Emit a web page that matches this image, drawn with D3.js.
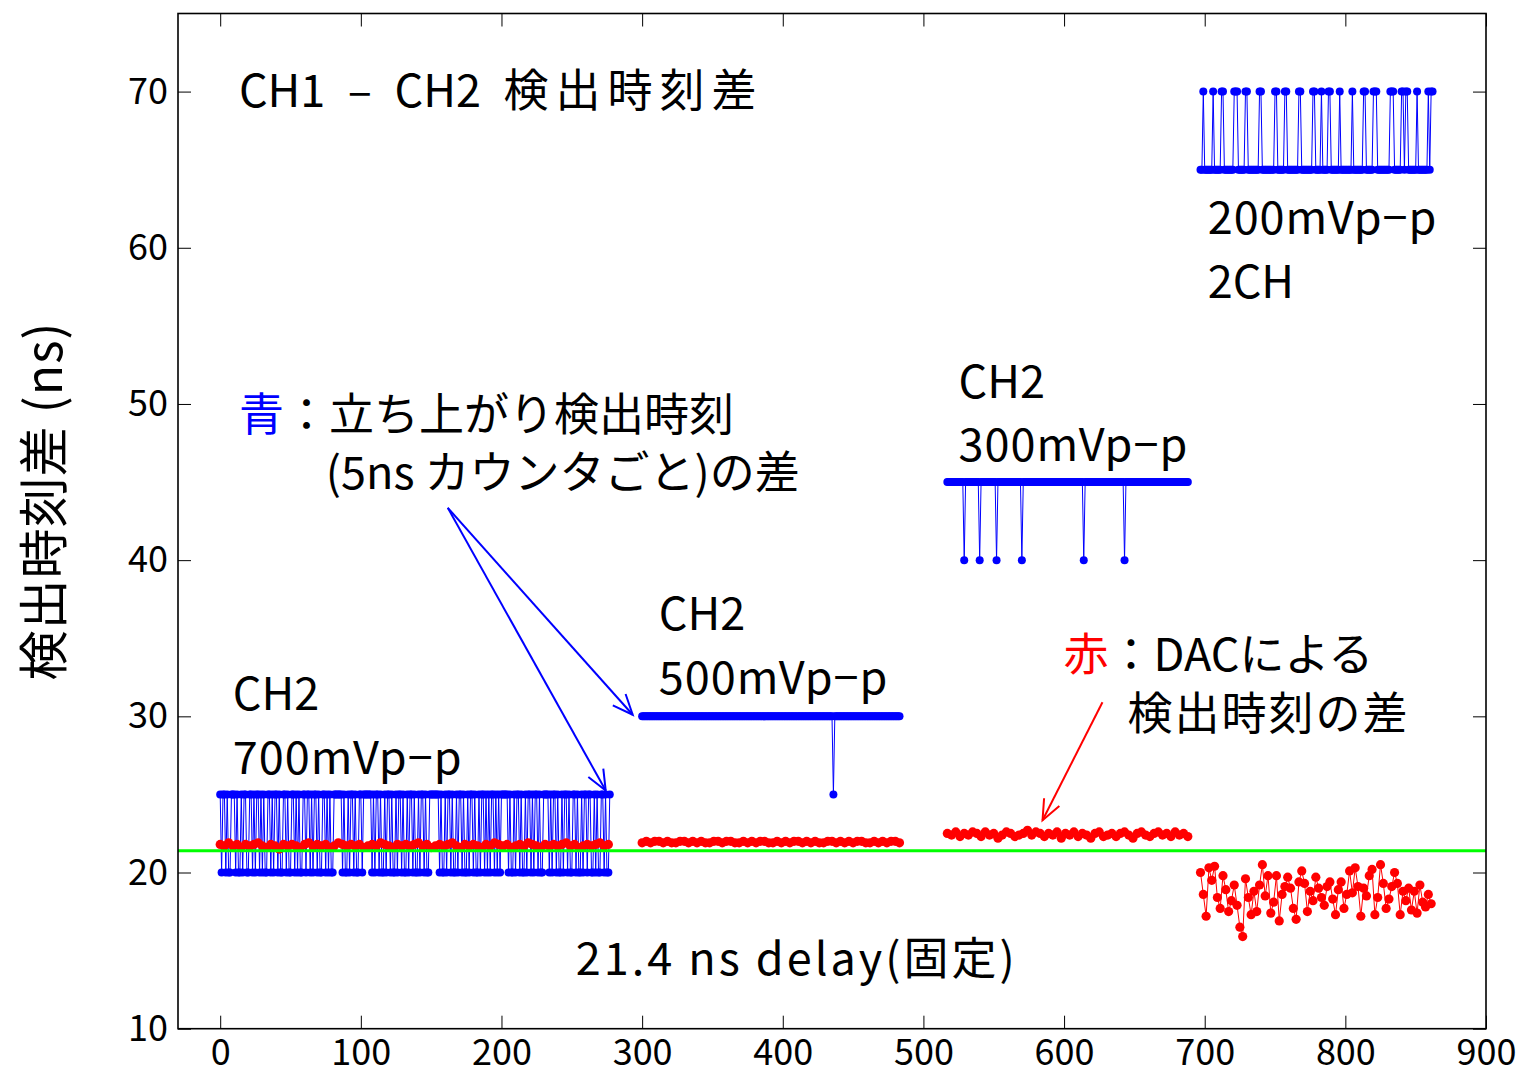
<!DOCTYPE html>
<html>
<head>
<meta charset="utf-8">
<script src="https://cdn.jsdelivr.net/npm/d3@7"></script>
<style>
  body { margin: 0; background: #fff; }
  text { font-family: "Noto Sans CJK JP", sans-serif; }
</style>
</head>
<body>
<script>
var xTicks = [0, 100, 200, 300, 400, 500, 600, 700, 800, 900];
var yTicks = [10, 20, 30, 40, 50, 60, 70];

// blue: one sample per x unit, "1" = upper level, "0" = lower level
var blueStarts = [0, 300, 517, 697];
var blueLow = [20, 25, 40, 65];
var blueHigh = [25, 30, 45, 70];
var blueLevels1 = "1011010011 1010010110 0110101101 0100110101 1010011010 " +
                  "0110101001 1011010110 1001101010 0111111010 0101101001 " +
                  "1011111101 0110100101 1010010110 1001011010 0101101001 " +
                  "1111110100 1011010010 1101001011 0100101101 0101101010 " +
                  "1111101001 0110100101 1010110100 1111010110 1001011010 " +
                  "0110100101 1011001010 01101001";
var blueLevels2 = "1111111111 1111111111 1111111111 1111111111 1111111111 " +
                  "1111111111 1111111111 1111111111 1111111111 1111111111 " +
                  "1111111111 1111111111 1111111111 1111110111 1111111111 " +
                  "1111111111 1111111111 1111111111 1111";
var blueLevels3 = "1111111111 1101111111 1110111111 1111101111 1111111111 " +
                  "1110111111 1111111111 1111111111 1111111111 1111111011 " +
                  "1111111111 1111111111 1111110111 1111111111 1111111111 " +
                  "1111111111 1111111111 11";
var blueLevels4 = "0010000001 0000011000 0000111000 0011000000 0011000000 " +
                  "0001100000 1100000000 1100000000 1100001000 0110000001 " +
                  "0000000010 0000001100 0001110000 0000011100 0001101100 " +
                  "0000100000 001011";

// red: DAC measured difference
var redStarts = [0, 300, 517, 697];
var redSteps = [3, 3, 3, 2];
var red1 = [21.8,21.7,21.9,21.7,21.8,21.6,21.8,21.7,21.8,21.9,
            21.7,21.6,21.8,21.7,21.5,21.8,21.7,21.8,21.7,21.6,
            21.8,21.9,21.7,21.8,21.7,21.8,21.6,21.7,21.9,21.8,
            21.7,21.8,21.7,21.8,21.6,21.7,21.8,21.7,21.9,21.8,
            21.7,21.6,21.8,21.7,21.8,21.7,21.8,21.9,21.7,21.8,
            21.6,21.7,21.8,21.7,21.8,21.9,21.7,21.6,21.8,21.7,
            21.8,21.7,21.6,21.8,21.7,21.9,21.8,21.7,21.8,21.6,
            21.7,21.8,21.7,21.9,21.8,21.7,21.6,21.8,21.7,21.8,
            21.7,21.8,21.9,21.7,21.8,21.6,21.7,21.8,21.7,21.8,
            21.9,21.7,21.8];
var red2 = [21.9,22.0,21.9,22.0,22.0,21.9,22.0,21.9,21.9,22.0,
            22.0,21.9,22.0,21.9,22.0,21.9,21.9,22.0,22.0,21.9,
            22.0,22.0,21.9,21.9,22.0,21.9,22.0,21.9,22.0,22.0,
            21.9,21.9,22.0,21.9,22.0,21.9,22.0,22.0,21.9,22.0,
            21.9,22.0,21.9,21.9,22.0,22.0,21.9,22.0,21.9,22.0,
            21.9,22.0,22.0,21.9,21.9,22.0,21.9,22.0,21.9,22.0,
            22.0,21.9];
var red3 = [22.5,22.4,22.6,22.3,22.5,22.4,22.6,22.5,22.3,22.6,
            22.4,22.5,22.2,22.4,22.6,22.5,22.3,22.4,22.5,22.7,
            22.4,22.6,22.5,22.3,22.5,22.4,22.6,22.2,22.5,22.4,
            22.6,22.3,22.5,22.4,22.2,22.5,22.6,22.3,22.4,22.5,
            22.3,22.5,22.6,22.4,22.2,22.5,22.6,22.4,22.3,22.5,
            22.6,22.4,22.5,22.3,22.6,22.4,22.5,22.3];
var red4 = [20.0,18.6,17.2,20.3,19.5,20.4,18.4,17.7,19.8,18.9,
            17.5,18.2,19.2,17.9,16.5,15.9,19.6,18.4,17.3,18.8,
            17.5,19.2,20.5,18.5,19.8,17.4,18.1,19.8,16.9,18.6,
            19.1,19.7,19.0,17.7,17.0,19.4,20.1,19.3,17.5,18.8,
            18.2,19.7,19.0,18.4,17.9,19.1,19.4,18.3,17.3,18.9,
            19.4,17.7,18.6,20.1,18.7,20.3,19.1,17.2,19.0,18.5,
            19.8,20.2,17.3,18.4,20.5,19.3,17.7,18.3,19.1,20.0,
            19.3,17.3,18.8,18.2,19.0,17.6,18.8,17.4,19.2,18.1,
            17.8,18.6,18.0];

var delayLevel = 21.4;

var W = 1523, H = 1076;
var svg = d3.select('body').append('svg')
            .attr('width', W)
            .attr('height', H);

var x = d3.scaleLinear().domain([-30, 900]).range([178, 1486]);
var y = d3.scaleLinear().domain([10, 75]).range([1028.7, 13.5]);

var line = d3.line()
    .x(function(d) { return x(d[0]); })
    .y(function(d) { return y(d[1]); });

function drawSeries(pts, color, r) {
    var g = svg.append('g');
    g.append('path')
        .attr('d', line(pts))
        .attr('fill', 'none')
        .attr('stroke', color)
        .attr('stroke-width', 1);
    g.selectAll('circle')
        .data(pts)
        .enter()
            .append('circle')
            .attr('cx', function(d) { return x(d[0]); })
            .attr('cy', function(d) { return y(d[1]); })
            .attr('r', r)
            .attr('fill', color);
}

// blue
[blueLevels1, blueLevels2, blueLevels3, blueLevels4].forEach(function(lv, k) {
    var pts = lv.replace(/ /g, '').split('').map(function(c, i) {
        return [blueStarts[k] + i, c === '1' ? blueHigh[k] : blueLow[k]];
    });
    drawSeries(pts, '#0000ff', 4);
});

// red
[red1, red2, red3, red4].forEach(function(vals, k) {
    var pts = vals.map(function(v, i) {
        return [redStarts[k] + i * redSteps[k], v];
    });
    drawSeries(pts, '#ff0000', 4.6);
});

// fixed delay line
svg.append('line')
    .attr('x1', x(-30)).attr('x2', x(900))
    .attr('y1', y(delayLevel)).attr('y2', y(delayLevel))
    .attr('stroke', '#00ff00')
    .attr('stroke-width', 3);

// axes
var tick = 13;
var axBottom = svg.append('g')
    .attr('transform', 'translate(0,' + y(10) + ')')
    .call(d3.axisBottom(x).tickValues(xTicks).tickSizeInner(-tick).tickSizeOuter(0).tickPadding(11));
var axLeft = svg.append('g')
    .attr('transform', 'translate(' + x(-30) + ',0)')
    .call(d3.axisLeft(y).tickValues(yTicks).tickSizeInner(-tick).tickSizeOuter(0).tickPadding(10));
var axTop = svg.append('g')
    .attr('transform', 'translate(0,' + y(75) + ')')
    .call(d3.axisTop(x).tickValues(xTicks).tickSizeInner(-tick).tickSizeOuter(0).tickFormat(''));
var axRight = svg.append('g')
    .attr('transform', 'translate(' + x(900) + ',0)')
    .call(d3.axisRight(y).tickValues(yTicks).tickSizeInner(-tick).tickSizeOuter(0).tickFormat(''));

[axBottom, axLeft, axTop, axRight].forEach(function(g) {
    g.select('.domain').remove();
    g.selectAll('line').attr('stroke', '#000').attr('stroke-width', 1);
    g.selectAll('text')
        .attr('fill', '#000')
        .style('font-family', '"Noto Sans CJK JP", sans-serif')
        .style('font-size', '36px');
});

svg.append('rect')
    .attr('x', x(-30)).attr('y', y(75))
    .attr('width', x(900) - x(-30))
    .attr('height', y(10) - y(75))
    .attr('fill', 'none')
    .attr('stroke', '#000')
    .attr('stroke-width', 1.6);

svg.append('text')
    .attr('transform', 'translate(44,501) rotate(-90)')
    .attr('text-anchor', 'middle')
    .attr('dy', '0.35em')
    .style('font-size', '50px')
    .style('letter-spacing', '1px')
    .text('検出時刻差 (ns)');

// annotations
var notes = [
    { x: 13.3, y: 69.0, parts: [['CH1\u2002–\u2002CH2\u2002', '#000'], ['検出時刻差', '#000', 7]] },
    { x: 9.0, y: 30.4, parts: [['CH2', '#000']] },
    { x: 9.0, y: 26.3, parts: [['700mVp−p', '#000', 1]] },
    { x: 311.8, y: 35.5, parts: [['CH2', '#000']] },
    { x: 311.8, y: 31.4, parts: [['500mVp−p', '#000', 1]] },
    { x: 525.0, y: 50.4, parts: [['CH2', '#000']] },
    { x: 525.0, y: 46.35, parts: [['300mVp−p', '#000', 1]] },
    { x: 702.1, y: 60.9, parts: [['200mVp−p', '#000', 1]] },
    { x: 702.1, y: 56.8, parts: [['2CH', '#000']] },
    { x: 13.3, y: 48.3, parts: [['青', '#0000ff'], ['：立ち上がり検出時刻', '#000']] },
    { x: 75.1, y: 44.55, parts: [['(5ns カウンタごと)の差', '#000']] },
    { x: 599.6, y: 32.9, parts: [['赤', '#ff0000'], ['：DACによる', '#000']] },
    { x: 645.1, y: 29.1, parts: [['検出時刻の差', '#000', 2]] },
    { x: 252.8, y: 13.45, parts: [['21.4 ns delay(固定)', '#000', 3]] }
];

notes.forEach(function(n) {
    var t = svg.append('text')
        .attr('x', x(n.x))
        .attr('y', y(n.y))
        .style('font-size', '45px');
    n.parts.forEach(function(p) {
        var s = t.append('tspan').attr('fill', p[1]).text(p[0]);
        if (p[2]) s.style('letter-spacing', p[2] + 'px');
    });
});

// arrows
var arrows = [
    { from: [161.8, 43.35], to: [293.3, 30.1], color: '#0000ff' },
    { from: [161.8, 43.35], to: [274.1, 25.25], color: '#0000ff' },
    { from: [627.3, 30.9], to: [584.7, 23.35], color: '#ff0000' }
];

arrows.forEach(function(a) {
    var x1 = x(a.from[0]), y1 = y(a.from[1]);
    var x2 = x(a.to[0]), y2 = y(a.to[1]);
    var ang = Math.atan2(y2 - y1, x2 - x1);
    var len = 22, spread = 0.4;
    var g = svg.append('g')
        .attr('stroke', a.color)
        .attr('stroke-width', 2)
        .attr('fill', 'none');
    g.append('line').attr('x1', x1).attr('y1', y1).attr('x2', x2).attr('y2', y2);
    g.append('path')
        .attr('d', 'M' + (x2 - len * Math.cos(ang - spread)) + ',' + (y2 - len * Math.sin(ang - spread)) +
                   'L' + x2 + ',' + y2 +
                   'L' + (x2 - len * Math.cos(ang + spread)) + ',' + (y2 - len * Math.sin(ang + spread)));
});
</script>
</body>
</html>
